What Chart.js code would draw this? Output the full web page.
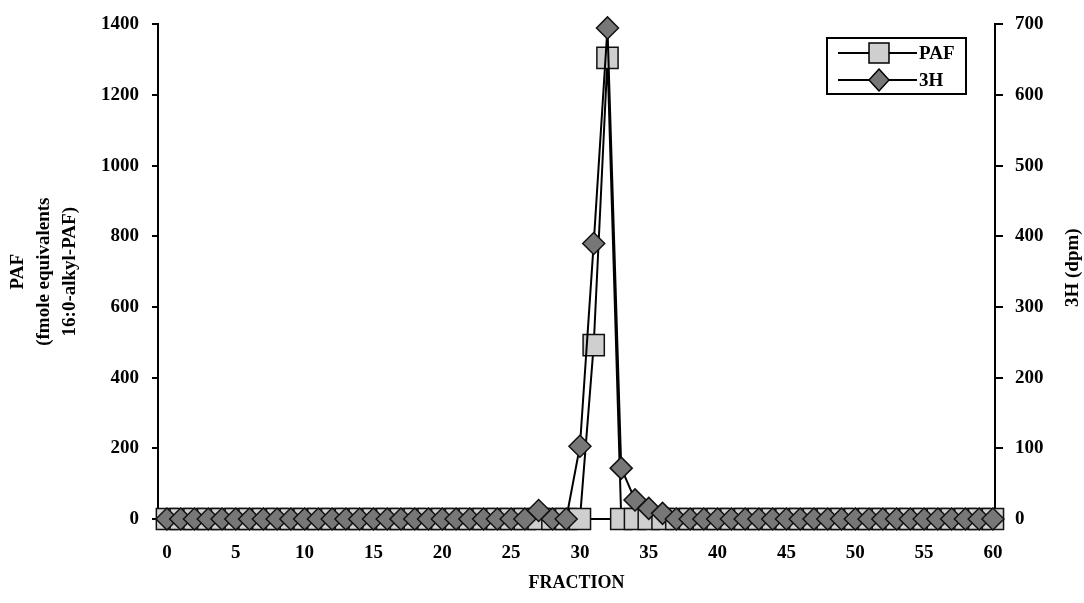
<!DOCTYPE html>
<html>
<head>
<meta charset="utf-8">
<script src="https://cdn.jsdelivr.net/npm/chart.js@4/dist/chart.umd.min.js"></script>
<style>
  html, body { margin: 0; padding: 0; background: #fff; }
  #wrap { width: 1084px; height: 603px; }
</style>
</head>
<body>
<div id="wrap"><canvas id="fractionChart" width="1084" height="603"></canvas></div>
<script>
// fraction numbers on the x axis
const fractions = [0, 1, 2, 3, 4, 5, 6, 7, 8, 9, 10, 11, 12, 13, 14, 15, 16, 17, 18, 19, 20,
    21, 22, 23, 24, 25, 26, 27, 28, 29, 30, 31, 32, 33, 34, 35, 36, 37, 38, 39, 40,
    41, 42, 43, 44, 45, 46, 47, 48, 49, 50, 51, 52, 53, 54, 55, 56, 57, 58, 59, 60];

// PAF, fmole equivalents (left axis)
const pafValues = [0, 0, 0, 0, 0, 0, 0, 0, 0, 0, 0, 0, 0, 0, 0, 0, 0, 0, 0, 0, 0,
    0, 0, 0, 0, 0, 0, 0, 0, 0, 0, 492, 1305, 0, 0, 0, 0, 0, 0, 0, 0,
    0, 0, 0, 0, 0, 0, 0, 0, 0, 0, 0, 0, 0, 0, 0, 0, 0, 0, 0, 0];

// 3H, dpm (right axis)
const h3Values = [0, 0, 0, 0, 0, 0, 0, 0, 0, 0, 0, 0, 0, 0, 0, 0, 0, 0, 0, 0, 0,
    0, 0, 0, 0, 0, 0, 12, 0, 0, 103, 390, 695, 72, 27, 15, 8, 0, 0, 0, 0,
    0, 0, 0, 0, 0, 0, 0, 0, 0, 0, 0, 0, 0, 0, 0, 0, 0, 0, 0, 0];

const xTicks = [0, 5, 10, 15, 20, 25, 30, 35, 40, 45, 50, 55, 60];
const pafTicks = [0, 200, 400, 600, 800, 1000, 1200, 1400];
const h3Ticks = [0, 100, 200, 300, 400, 500, 600, 700];

const FONT = "'Liberation Serif', 'Times New Roman', serif";

function toPoints(values) {
    return fractions.map(function(f, i) { return { x: f, y: values[i] }; });
}

function plain(v) { return String(v); }

// right title reads bottom-to-top, so it is drawn here
const rightTitle = {
    id: "rightTitle",
    afterDraw(chart) {
        const ctx = chart.ctx;
        const area = chart.chartArea;
        ctx.save();
        ctx.translate(1073, (area.top + area.bottom) / 2 - 4);
        ctx.rotate(-Math.PI / 2);
        ctx.font = "bold 19px " + FONT;
        ctx.fillStyle = "#000";
        ctx.textAlign = "center";
        ctx.textBaseline = "middle";
        ctx.fillText("3H (dpm)", 0, 0);
        ctx.restore();
    }
};

// boxed legend inside the plot, top right
const boxLegend = {
    id: "boxLegend",
    afterDraw(chart) {
        const ctx = chart.ctx;
        ctx.save();
        ctx.strokeStyle = "#000";
        ctx.lineWidth = 2;
        ctx.strokeRect(827, 38, 139, 56);
        const rows = [53, 80];
        chart.data.datasets.forEach(function(ds, i) {
            const y = rows[i];
            ctx.strokeStyle = "#000";
            ctx.lineWidth = 2;
            ctx.beginPath();
            ctx.moveTo(838, y);
            ctx.lineTo(917, y);
            ctx.stroke();
            ctx.fillStyle = ds.pointBackgroundColor;
            ctx.lineWidth = 1.5;
            ctx.beginPath();
            if (ds.pointStyle === "rect") {
                ctx.rect(869, y - 10, 20, 20);
            } else {
                ctx.moveTo(879, y - 11);
                ctx.lineTo(889, y);
                ctx.lineTo(879, y + 11);
                ctx.lineTo(869, y);
                ctx.closePath();
            }
            ctx.fill();
            ctx.stroke();
            ctx.fillStyle = "#000";
            ctx.font = "bold 19px " + FONT;
            ctx.textAlign = "left";
            ctx.textBaseline = "middle";
            ctx.fillText(ds.label, 919, y + 1);
        });
        ctx.restore();
    }
};

const chart = new Chart(document.getElementById("fractionChart"), {
    type: "line",
    data: {
        datasets: [
            {
                label: "PAF",
                data: toPoints(pafValues),
                yAxisID: "yPaf",
                order: 1,
                clip: false,
                borderColor: "#000",
                borderWidth: 2,
                pointStyle: "rect",
                pointRadius: 15,
                pointBackgroundColor: "#cfcfcf",
                pointBorderColor: "#111",
                pointBorderWidth: 1.5,
                tension: 0
            },
            {
                label: "3H",
                data: toPoints(h3Values),
                yAxisID: "yH3",
                order: 0,
                clip: false,
                borderColor: "#000",
                borderWidth: 2,
                pointStyle: "rectRot",
                pointRadius: 11,
                pointBackgroundColor: "#777",
                pointBorderColor: "#111",
                pointBorderWidth: 1.5,
                tension: 0
            }
        ]
    },
    options: {
        responsive: false,
        animation: false,
        layout: { padding: { top: 18, left: 0, right: 0, bottom: 0 } },
        plugins: {
            legend: { display: false },
            tooltip: { enabled: false }
        },
        scales: {
            x: {
                type: "linear",
                min: -0.65,
                max: 60.15,
                afterBuildTicks: function(scale) {
                    scale.ticks = xTicks.map(function(v) { return { value: v }; });
                },
                afterFit: function(scale) { scale.height = 84; },
                grid: { display: true, drawOnChartArea: false, drawTicks: false },
                border: { display: true, color: "#000", width: 2 },
                ticks: {
                    color: "#000",
                    padding: 23,
                    maxRotation: 0,
                    autoSkip: false,
                    callback: plain,
                    font: { family: FONT, size: 19, weight: "bold" }
                },
                title: {
                    display: true,
                    text: "FRACTION",
                    color: "#000",
                    padding: { top: 0, bottom: 9 },
                    font: { family: FONT, size: 18, weight: "bold" }
                }
            },
            yPaf: {
                position: "left",
                min: 0,
                max: 1400,
                afterBuildTicks: function(scale) {
                    scale.ticks = pafTicks.map(function(v) { return { value: v }; });
                },
                afterFit: function(scale) { scale.width = 158; },
                grid: { drawOnChartArea: false, drawTicks: true, tickLength: 6, color: "#000", lineWidth: 2 },
                border: { display: true, color: "#000", width: 2 },
                ticks: {
                    color: "#000",
                    padding: 13,
                    callback: plain,
                    font: { family: FONT, size: 19, weight: "bold" }
                },
                title: {
                    display: true,
                    text: ["PAF", "(fmole equivalents", "16:0-alkyl-PAF)"],
                    color: "#000",
                    padding: { top: 5, bottom: 0 },
                    font: { family: FONT, size: 19, weight: "bold", lineHeight: "26px" }
                }
            },
            yH3: {
                position: "right",
                min: 0,
                max: 700,
                afterBuildTicks: function(scale) {
                    scale.ticks = h3Ticks.map(function(v) { return { value: v }; });
                },
                afterFit: function(scale) { scale.width = 89; },
                grid: { drawOnChartArea: false, drawTicks: true, tickLength: 8, color: "#000", lineWidth: 2 },
                border: { display: true, color: "#000", width: 2 },
                ticks: {
                    color: "#000",
                    padding: 12,
                    callback: plain,
                    font: { family: FONT, size: 19, weight: "bold" }
                }
            }
        }
    },
    plugins: [rightTitle, boxLegend]
});
</script>
</body>
</html>
